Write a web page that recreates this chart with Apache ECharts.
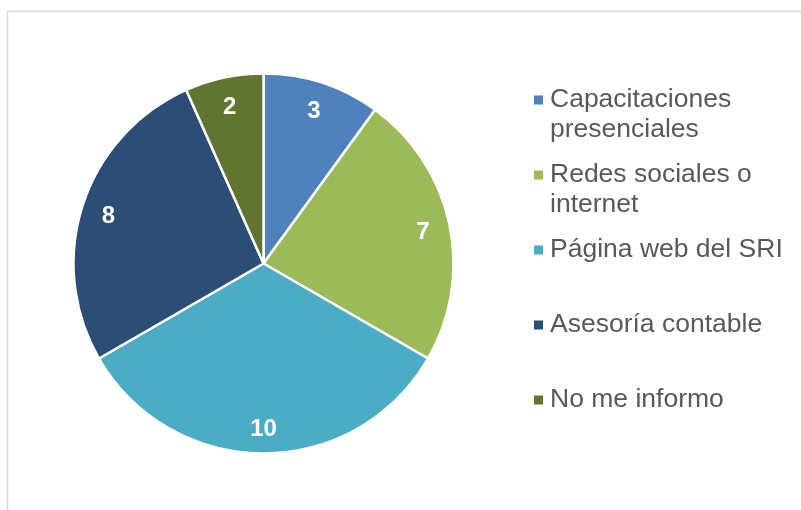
<!DOCTYPE html>
<html>
<head>
<meta charset="utf-8">
<script src="https://cdn.jsdelivr.net/npm/echarts@6/dist/echarts.min.js"></script>
<style>
html, body { margin: 0; padding: 0; background: #fff; }
#main { width: 801px; height: 510px; }
</style>
</head>
<body>
<div id="main"></div>
<script>
// datos
var categorias = ['Capacitaciones presenciales', 'Redes sociales o internet', 'Página web del SRI', 'Asesoría contable', 'No me informo'];
var valores = [3, 7, 10, 8, 2];
var colores = ['#4F81BD', '#9BBB59', '#4BACC6', '#2C4D75', '#5F7530'];

// posicion vertical de cada entrada de la leyenda (centro de la primera linea)
var leyendaY = [100, 175, 250, 325, 400];

var chart = echarts.init(document.getElementById('main'), null, { renderer: 'canvas' });

var datos = categorias.map(function (c, i) {
  return { name: c, value: valores[i], itemStyle: { color: colores[i] } };
});

var legends = categorias.map(function (c, i) {
  var dosLineas = (i < 2);
  return {
    data: [c],
    orient: 'vertical',
    left: 534,
    top: dosLineas ? leyendaY[i] - 45 : leyendaY[i] - 15,
    padding: 0,
    icon: 'path://M0,0h10v10h-10z',
    symbolKeepAspect: true,
    itemWidth: 13,
    itemHeight: 9,
    selectedMode: false,
    itemStyle: { borderWidth: 0 },
    // linea vacia al inicio para que el icono quede junto a la primera linea
    formatter: dosLineas ? function (n) { return '\n' + n; } : '{name}',
    textStyle: {
      fontFamily: 'Liberation Sans, Arial, sans-serif',
      fontSize: 26.5,
      lineHeight: 30,
      color: '#595959',
      width: 250,
      overflow: 'break'
    }
  };
});

var option = {
  backgroundColor: '#fff',
  animation: false,
  graphic: [{
    type: 'rect',
    shape: { x: 7.5, y: 11.5, width: 900, height: 600 },
    style: { fill: 'none', stroke: '#D9D9D9', lineWidth: 1.5 },
    silent: true
  }],
  legend: legends,
  series: [{
    type: 'pie',
    center: [263.5, 263.5],
    radius: [0, 190],
    startAngle: 90,
    clockwise: true,
    data: datos,
    label: { show: false },
    labelLine: { show: false },
    itemStyle: { borderColor: '#fff', borderWidth: 2.5 },
    emphasis: { disabled: true }
  }, {
    // capa solo para etiquetas, mas cerca del borde como en Excel
    type: 'pie',
    center: [263.5, 263.5],
    radius: [130, 190],
    startAngle: 90,
    clockwise: true,
    silent: true,
    legendHoverLink: false,
    data: categorias.map(function (c, i) {
      return { name: c, value: valores[i] };
    }),
    itemStyle: { color: 'rgba(0,0,0,0)', borderWidth: 0 },
    label: {
      show: true,
      position: 'inside',
      formatter: '{c}',
      color: '#fff',
      fontFamily: 'Liberation Sans, Arial, sans-serif',
      fontWeight: 'bold',
      fontSize: 24,
      offset: [0, 3]
    },
    labelLine: { show: false },
    emphasis: { disabled: true }
  }]
};

chart.setOption(option);
</script>
</body>
</html>
